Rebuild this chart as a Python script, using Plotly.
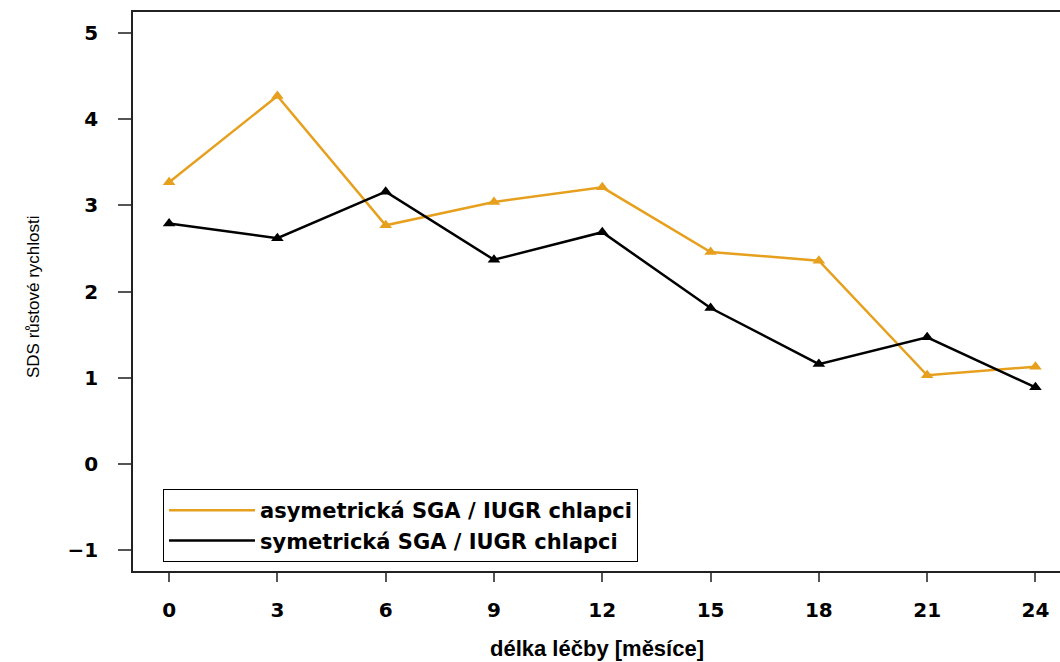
import plotly.graph_objects as go

months = [0, 3, 6, 9, 12, 15, 18, 21, 24]
asym_boys = [3.27, 4.27, 2.77, 3.04, 3.21, 2.46, 2.36, 1.03, 1.13]
sym_boys = [2.79, 2.62, 3.16, 2.37, 2.69, 1.81, 1.16, 1.47, 0.89]
series_names = ["asymetrická SGA / IUGR chlapci", "symetrická SGA / IUGR chlapci"]
x_ticks = [0, 3, 6, 9, 12, 15, 18, 21, 24]
y_ticks = [-1, 0, 1, 2, 3, 4, 5]
x_title = "délka léčby [měsíce]"
y_title = "SDS růstové rychlosti"

ORANGE = "#E6A01E"
BLACK = "#000000"

fig = go.Figure()
for name, vals, col in [(series_names[0], asym_boys, ORANGE), (series_names[1], sym_boys, BLACK)]:
    fig.add_trace(go.Scatter(
        x=months, y=vals, mode="lines+markers", showlegend=False,
        line=dict(color=col, width=2.5),
        marker=dict(symbol="triangle-up", size=11, color=col),
    ))
for name, col in [(series_names[0], ORANGE), (series_names[1], BLACK)]:
    fig.add_trace(go.Scatter(
        x=[None], y=[None], mode="lines", name=name,
        line=dict(color=col, width=2.5),
    ))

W, H = 1060, 662
L, T, B, R = 133, 12, 91, 0
pw, ph = W - L - R, H - T - B

tickfont = dict(family="DejaVu Sans", size=20, color="#000000", weight="bold")

fig.update_layout(
    width=W, height=H,
    margin=dict(l=L, r=R, t=T, b=B, autoexpand=False),
    paper_bgcolor="white", plot_bgcolor="white",
    xaxis=dict(
        range=[-1.0, 24.68], tickmode="array", tickvals=x_ticks,
        showgrid=False, zeroline=False, showline=True, mirror=True,
        linecolor="#222222", linewidth=1.5,
        ticks="outside", ticklen=9, tickcolor="#555555", tickwidth=1.5,
        tickfont=tickfont, ticklabelstandoff=11,
    ),
    yaxis=dict(
        range=[-1.24, 5.244], tickmode="array", tickvals=y_ticks,
        showgrid=False, zeroline=False, showline=True, mirror=False,
        linecolor="#222222", linewidth=1.5,
        ticks="outside", ticklen=13, tickcolor="#555555", tickwidth=1.5,
        tickfont=tickfont, ticklabelstandoff=16,
    ),
    legend=dict(
        x=(163 - L) / pw, y=(H - B - 489) / ph, xanchor="left", yanchor="top",
        bordercolor="#000000", borderwidth=1, bgcolor="white",
        font=dict(family="DejaVu Sans", size=21, color="#000000", weight="bold"),
        traceorder="normal", itemwidth=86,
    ),
    annotations=[
        dict(text=x_title, xref="paper", yref="paper", x=0.5, y=-(648 - (H - B)) / ph,
             xanchor="center", yanchor="middle", showarrow=False,
             font=dict(family="Liberation Sans", size=22, color="#000000", weight="bold")),
        dict(text=y_title, xref="paper", yref="paper", x=-(L - 33) / pw, y=(H - B - 297) / ph,
             xanchor="center", yanchor="middle", showarrow=False, textangle=-90,
             font=dict(family="Liberation Sans", size=17, color="#000000")),
    ],
)

fig.write_html("out.html")
